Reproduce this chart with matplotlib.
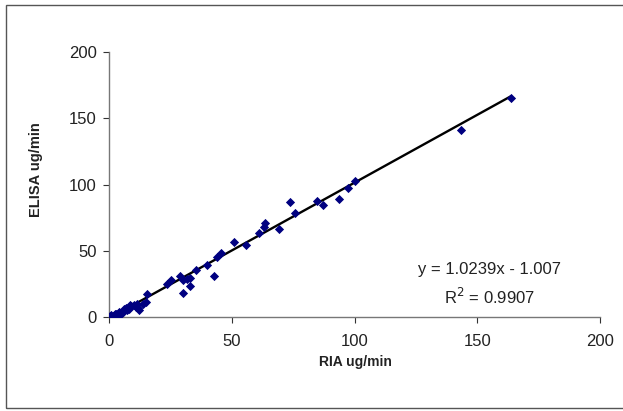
import matplotlib
matplotlib.use("Agg")
import matplotlib.pyplot as plt
from matplotlib.patches import Rectangle
import numpy as np

plt.rcParams['font.family'] = ['Liberation Sans', 'DejaVu Sans']

ria = [163.6, 143.4, 100.2, 97.2, 93.5, 87.1, 84.6, 75.7, 73.9, 69.3,
       63.4, 63.3, 61.2, 56.0, 51.1, 45.6, 43.9, 42.9, 40.1, 35.4,
       33.0, 32.8, 31.9, 30.1, 29.1, 30.3, 25.2, 23.6, 15.5, 15.0,
       13.9, 12.3, 11.2, 8.6, 7.4, 6.1, 4.2, 2.6, 1.0,
       0.3, 0.8, 1.5, 2.0, 3.0, 3.5, 4.0, 4.8, 5.5, 6.5, 7.0, 8.0, 9.0, 10.0, 11.5, 12.0]
elisa = [165.2, 141.4, 102.5, 97.2, 89.4, 84.3, 87.9, 78.3, 86.6, 66.2,
         70.7, 67.7, 63.6, 54.5, 56.8, 48.0, 45.0, 31.3, 38.9, 35.4,
         29.8, 23.5, 28.8, 28.3, 31.3, 18.2, 28.3, 24.7, 17.7, 11.1,
         9.6, 5.1, 7.6, 8.8, 5.1, 6.3, 3.8, 2.5, 1.3,
         0.8, 0.3, 1.0, 0.5, 2.0, 1.0, 3.0, 2.0, 4.0, 5.0, 7.0, 6.0, 8.0, 9.0, 10.0, 6.5]

slope = 1.0239
intercept = -1.007
equation = "y = 1.0239x - 1.007"
r2_text = "R$^2$ = 0.9907"
x_ticks = [0, 50, 100, 150, 200]
y_ticks = [0, 50, 100, 150, 200]

fig = plt.figure(figsize=(6.23, 4.11), dpi=100)
fig.patches.append(Rectangle((6/623, 1 - 408/411), 1.0, (408 - 5) / 411,
                             transform=fig.transFigure, fill=False,
                             edgecolor='#555555', linewidth=1.0))
ax = fig.add_axes([109/623, 1 - 317/411, (600 - 109)/623, (317 - 52)/411])

ax.scatter(ria, elisa, marker='D', s=22, color='#000080', zorder=3, linewidths=0)
xl = np.array([min(ria), max(ria)])
ax.plot(xl, slope * xl + intercept, color='black', linewidth=1.7, zorder=2)

ax.set_xlim(0, 200)
ax.set_ylim(0, 200)
ax.set_xticks(x_ticks)
ax.set_yticks(y_ticks)
ax.tick_params(axis='both', labelsize=12, colors='#333333', length=4, width=0.8,
               labelcolor='#222222')
ax.tick_params(axis='x', pad=8)
ax.tick_params(axis='y', pad=5)
for s in ['top', 'right']:
    ax.spines[s].set_visible(False)
for s in ['left', 'bottom']:
    ax.spines[s].set_color('#777777')
    ax.spines[s].set_linewidth(1.0)

ax.set_xlabel("RIA ug/min", fontsize=10, fontweight='bold', color='#222222')
ax.set_ylabel("ELISA ug/min", fontsize=10.5, fontweight='bold', color='#222222')
ax.xaxis.set_label_coords((355 - 109) / 491, -(355 - 317) / 265)
ax.yaxis.set_label_coords(-(109 - 43) / 491, (317 - 170) / 265)

ax.text(155, 36, equation, fontsize=12, ha='center', va='center', color='#222222')
ax.text(155, 15.5, r2_text, fontsize=12, ha='center', va='center', color='#222222')

fig.savefig("out.png", dpi=100)
